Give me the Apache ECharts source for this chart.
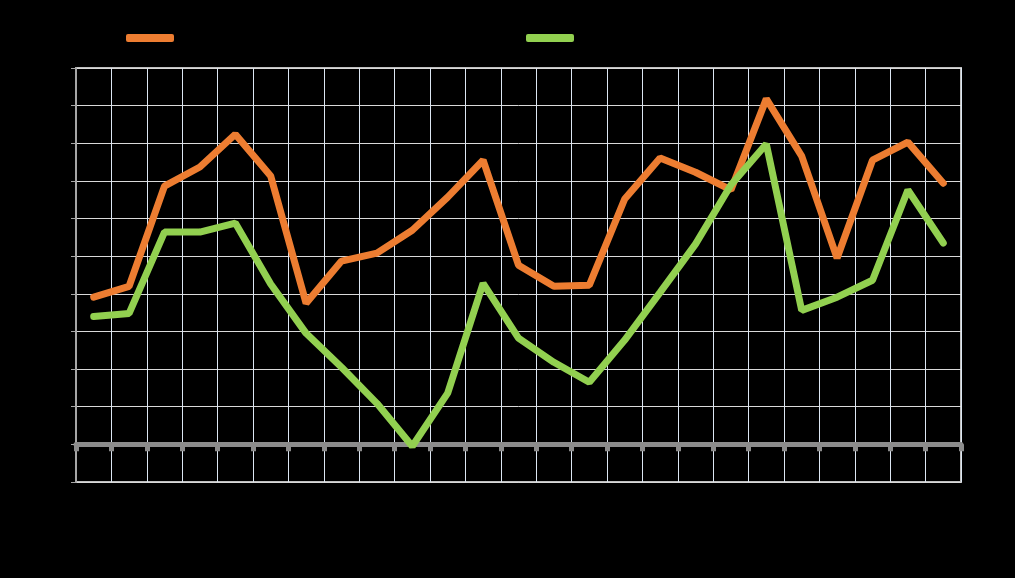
<!DOCTYPE html>
<html>
<head>
<meta charset="utf-8">
<script src="https://cdn.jsdelivr.net/npm/echarts@6/dist/echarts.min.js"></script>
<style>html,body{margin:0;padding:0;background:#000;}#c{width:1015px;height:578px;}</style>
</head>
<body>
<div id="c"></div>
<script>
var categories = ['1','2','3','4','5','6','7','8','9','10','11','12','13','14','15','16','17','18','19','20','21','22','23','24','25'];
var seriesNames = ['Series 1', 'Series 2'];
var orangeValues = [3.91,4.2,6.86,7.37,8.24,7.13,3.75,4.87,5.08,5.69,6.57,7.55,4.76,4.2,4.23,6.52,7.61,7.23,6.76,9.18,7.66,4.95,7.55,8.03,6.94];
var greenValues = [3.4,3.48,5.64,5.64,5.88,4.26,2.95,2.05,1.09,-0.05,1.36,4.28,2.82,2.18,1.65,2.77,4.04,5.32,6.89,7.98,3.56,3.91,4.36,6.76,5.35];
var yTicks = {min: -1, max: 10, interval: 1};

var chart = echarts.init(document.getElementById('c'));
function endLabel(params){ return params.dataIndex === categories.length - 1 ? params.value.toFixed(1) : ''; }
chart.setOption({
  backgroundColor: '#000',
  animation: false,
  legend: [
    {data: [seriesNames[0]], left: 121, top: 26, itemWidth: 48, itemHeight: 8, icon: 'roundRect', textStyle: {color: '#000', fontSize: 14}},
    {data: [seriesNames[1]], left: 521, top: 26, itemWidth: 48, itemHeight: 8, icon: 'roundRect', textStyle: {color: '#000', fontSize: 14}}
  ],
  grid: {left: 76, right: 54, top: 68, bottom: 96, show: true, borderColor: '#bfbfbf', borderWidth: 2, containLabel: false},
  xAxis: {
    type: 'category', data: categories, boundaryGap: true,
    axisLine: {onZero: true, lineStyle: {color: '#8c8c8c', width: 5}},
    axisTick: {show: true, length: 7, lineStyle: {color: '#8c8c8c', width: 5}},
    axisLabel: {color: '#000', margin: 50},
    splitLine: {show: true, lineStyle: {color: '#dce6f2', width: 1}}
  },
  yAxis: {
    type: 'value', min: yTicks.min, max: yTicks.max, interval: yTicks.interval,
    axisLine: {show: true, lineStyle: {color: '#a6a6a6', width: 2}},
    axisTick: {show: true, length: 5, lineStyle: {color: '#a6a6a6'}},
    axisLabel: {color: '#000'},
    splitLine: {lineStyle: {color: '#d9d9d9', width: 1}}
  },
  series: [
    {name: seriesNames[0], type: 'line', data: orangeValues, symbol: 'none', color: '#ed7d31',
     lineStyle: {width: 7, cap: 'round', color: '#ed7d31'},
     label: {show: true, position: 'right', formatter: endLabel, color: '#000', fontSize: 22, textBorderColor: '#000', textBorderWidth: 3}},
    {name: seriesNames[1], type: 'line', data: greenValues, symbol: 'none', color: '#92d050',
     lineStyle: {width: 7, cap: 'round', color: '#92d050'},
     label: {show: true, position: 'right', formatter: endLabel, color: '#000', fontSize: 22, textBorderColor: '#000', textBorderWidth: 3}}
  ]
});
</script>
</body>
</html>
